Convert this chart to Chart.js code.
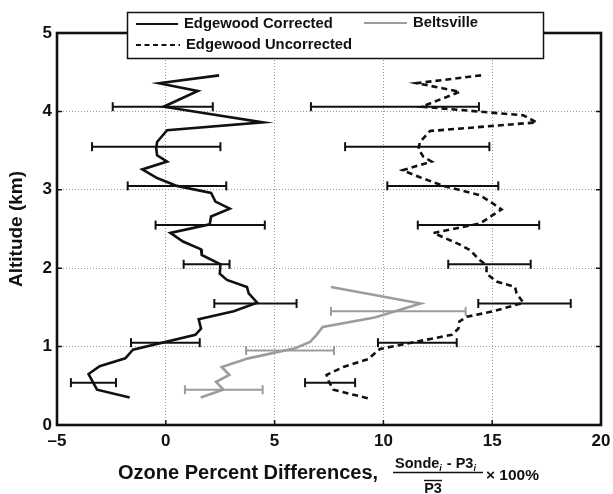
<!DOCTYPE html>
<html>
<head>
<meta charset="utf-8">
<script src="https://cdn.jsdelivr.net/npm/chart.js@4.4.1/dist/chart.umd.min.js"></script>
<style>
html, body { margin: 0; padding: 0; background: #fff; }
</style>
</head>
<body>
<canvas id="ozoneChart" width="613" height="494"></canvas>
<script>
// ozone percent differences vs altitude (km)
const corrAlt  = [4.46, 4.36, 4.26, 4.06, 3.86, 3.76, 3.61, 3.53, 3.44, 3.36, 3.26, 3.15, 3.05, 2.96, 2.85, 2.76, 2.66, 2.56, 2.45, 2.34, 2.24, 2.17, 2.05, 1.93, 1.85, 1.76, 1.68, 1.56, 1.45, 1.35, 1.23, 1.15, 0.96, 0.85, 0.75, 0.65, 0.45, 0.35];
const corrDiff = [2.45, -0.31, 1.47, -0.10, 4.47, 0.06, -0.40, -0.44, -0.40, 0.06, -1.08, -0.40, 0.51, 2.08, 2.28, 2.94, 2.08, 2.02, 0.21, 0.79, 1.62, 1.65, 2.51, 2.48, 2.81, 3.73, 3.81, 4.20, 3.12, 1.51, 1.62, 1.36, -1.51, -1.86, -3.04, -3.55, -3.16, -1.66];

const beltAlt  = [1.76, 1.55, 1.37, 1.25, 1.15, 1.06, 0.98, 0.85, 0.74, 0.64, 0.55, 0.45, 0.35];
const beltDiff = [7.59, 11.71, 9.60, 7.21, 6.93, 6.63, 5.94, 3.79, 2.57, 2.92, 2.31, 2.64, 1.60];

const uncorrAlt  = [4.46, 4.36, 4.25, 4.06, 3.95, 3.86, 3.75, 3.61, 3.52, 3.42, 3.36, 3.25, 3.16, 3.05, 2.93, 2.85, 2.75, 2.57, 2.45, 2.30, 2.23, 2.10, 2.04, 1.93, 1.83, 1.76, 1.68, 1.56, 1.45, 1.38, 1.32, 1.23, 1.15, 1.08, 0.97, 0.84, 0.74, 0.64, 0.55, 0.45, 0.34];
const uncorrDiff = [14.49, 11.53, 13.52, 11.76, 16.43, 17.04, 12.14, 11.68, 11.61, 11.84, 12.22, 10.88, 11.68, 12.75, 14.44, 14.90, 15.43, 14.44, 12.30, 13.52, 13.98, 14.44, 14.74, 14.74, 15.20, 16.05, 16.12, 16.43, 15.05, 13.83, 13.49, 13.45, 13.14, 11.84, 9.84, 9.30, 8.16, 7.39, 7.50, 7.70, 9.30];

// error bars: altitude, low end, high end
const corrBarAlt = [4.06, 3.55, 3.05, 2.55, 2.05, 1.55, 1.05, 0.54];
const corrBarLo  = [-2.44, -3.39, -1.75, -0.47, 0.82, 2.23, -1.60, -4.36];
const corrBarHi  = [2.16, 2.51, 2.78, 4.55, 2.93, 6.01, 1.56, -2.29];

const beltBarAlt = [1.45, 0.95, 0.45];
const beltBarLo  = [7.59, 3.69, 0.88];
const beltBarHi  = [13.78, 7.73, 4.45];

const uncorrBarAlt = [4.06, 3.55, 3.05, 2.55, 2.05, 1.55, 1.05, 0.54];
const uncorrBarLo  = [6.67, 8.24, 10.18, 11.58, 12.98, 14.36, 9.75, 6.40];
const uncorrBarHi  = [14.39, 14.87, 15.28, 17.16, 16.77, 18.61, 13.37, 8.70];

const xTicks = [-5, 0, 5, 10, 15, 20];
const yTicks = [0, 1, 2, 3, 4, 5];

const BLACK = '#111111';
const GREY = '#9c9c9c';
const FONT = '"Liberation Sans", Arial, Helvetica, sans-serif';

function pts(xs, ys) {
    return xs.map((x, i) => ({x: x, y: ys[i]}));
}

function barSets(alts, lo, hi, color) {
    return alts.map((a, i) => ({
        data: [{x: lo[i], y: a}, {x: hi[i], y: a}],
        showLine: true,
        borderColor: color,
        borderWidth: 2,
        pointStyle: 'line',
        pointRotation: 90,
        pointRadius: 4.5,
        pointHoverRadius: 4.5,
        pointBorderColor: color,
        pointBorderWidth: 2,
        isBar: true
    }));
}

const lineSets = [
    {label: 'Edgewood Corrected', data: pts(corrDiff, corrAlt), borderColor: BLACK, borderWidth: 2.6, borderDash: []},
    {label: 'Beltsville', data: pts(beltDiff, beltAlt), borderColor: GREY, borderWidth: 2.6, borderDash: []},
    {label: 'Edgewood Uncorrected', data: pts(uncorrDiff, uncorrAlt), borderColor: BLACK, borderWidth: 2.6, borderDash: [6, 4]}
].map(d => Object.assign(d, {showLine: true, pointRadius: 0, pointHoverRadius: 0, tension: 0}));

// box, inward ticks, legend and the x axis label with its fraction
const decorations = {
    id: 'decorations',
    afterDatasetsDraw(chart) {
        const {ctx, chartArea: a, scales} = chart;
        ctx.save();
        ctx.strokeStyle = BLACK;
        ctx.lineWidth = 1.5;
        ctx.beginPath();
        xTicks.slice(1, -1).forEach(v => {
            const px = scales.x.getPixelForValue(v);
            ctx.moveTo(px, a.bottom); ctx.lineTo(px, a.bottom - 5);
            ctx.moveTo(px, a.top); ctx.lineTo(px, a.top + 5);
        });
        yTicks.slice(1, -1).forEach(v => {
            const py = scales.y.getPixelForValue(v);
            ctx.moveTo(a.left, py); ctx.lineTo(a.left + 5, py);
            ctx.moveTo(a.right, py); ctx.lineTo(a.right - 5, py);
        });
        ctx.stroke();
        ctx.lineWidth = 2.6;
        ctx.strokeRect(a.left, a.top, a.right - a.left, a.bottom - a.top);
        ctx.restore();
    },
    afterDraw(chart) {
        const ctx = chart.ctx;
        ctx.save();

        // legend
        const bx = 127.5, by = 12.5, bw = 416, bh = 46;
        ctx.fillStyle = '#fff';
        ctx.fillRect(bx, by, bw, bh);
        ctx.strokeStyle = BLACK;
        ctx.lineWidth = 1.5;
        ctx.strokeRect(bx, by, bw, bh);
        const entries = [
            {ds: lineSets[0], x: 136, y: 24, w: 42},
            {ds: lineSets[1], x: 364, y: 23, w: 43},
            {ds: lineSets[2], x: 136, y: 45, w: 44}
        ];
        ctx.font = 'bold 14.8px ' + FONT;
        ctx.textBaseline = 'middle';
        ctx.textAlign = 'left';
        entries.forEach(e => {
            ctx.strokeStyle = e.ds.borderColor;
            ctx.lineWidth = 2.2;
            ctx.setLineDash(e.ds.borderDash.length ? [5, 3.5] : []);
            ctx.beginPath();
            ctx.moveTo(e.x, e.y);
            ctx.lineTo(e.x + e.w, e.y);
            ctx.stroke();
            ctx.setLineDash([]);
            ctx.fillStyle = BLACK;
            ctx.fillText(e.ds.label, e.x + e.w + 6, e.y - 0.5);
        });

        // x axis label
        ctx.fillStyle = BLACK;
        ctx.strokeStyle = BLACK;
        ctx.textBaseline = 'alphabetic';
        ctx.font = 'bold 20px ' + FONT;
        ctx.fillText('Ozone Percent Differences,', 118, 479);

        const big = 'bold 14.5px ' + FONT;
        const sub = 'italic bold 9px ' + FONT;
        let nx = 395;
        const ny = 468;
        const parts = [['Sonde', big, 0], ['i', sub, 3], [' - P3', big, 0], ['i', sub, 3]];
        parts.forEach(p => {
            ctx.font = p[1];
            ctx.fillText(p[0], nx, ny + p[2]);
            nx += ctx.measureText(p[0]).width + (p[1] === sub ? 1 : 0);
        });
        ctx.lineWidth = 1.4;
        ctx.beginPath();
        ctx.moveTo(393, 472.5);
        ctx.lineTo(483, 472.5);
        ctx.stroke();
        ctx.font = big;
        ctx.textAlign = 'center';
        ctx.fillText('P3', 433, 493);
        ctx.beginPath();
        ctx.moveTo(424, 480.5);
        ctx.lineTo(442, 480.5);
        ctx.stroke();
        ctx.textAlign = 'left';
        ctx.font = 'bold 15.5px ' + FONT;
        ctx.fillText('\u00d7 100%', 486, 480);
        ctx.restore();
    }
};

const gridColor = ctx => (ctx.tick && (ctx.tick.value === ctx.scale.min || ctx.tick.value === ctx.scale.max)) ? 'rgba(0,0,0,0)' : '#9a9a9a';

new Chart(document.getElementById('ozoneChart'), {
    type: 'scatter',
    data: {
        datasets: lineSets
            .concat(barSets(corrBarAlt, corrBarLo, corrBarHi, BLACK))
            .concat(barSets(beltBarAlt, beltBarLo, beltBarHi, GREY))
            .concat(barSets(uncorrBarAlt, uncorrBarLo, uncorrBarHi, BLACK))
    },
    options: {
        responsive: false,
        animation: false,
        devicePixelRatio: 1,
        layout: {padding: {top: 33, right: 12, left: 0, bottom: 0}},
        plugins: {
            legend: {display: false},
            tooltip: {enabled: false}
        },
        scales: {
            x: {
                type: 'linear',
                min: -5,
                max: 20,
                afterBuildTicks: s => { s.ticks = xTicks.map(v => ({value: v})); },
                afterFit: s => { s.height = 69; s.paddingLeft = 0; s.paddingRight = 0; },
                ticks: {
                    color: BLACK,
                    padding: 6,
                    font: {family: FONT, size: 17, weight: 'bold'},
                    callback: v => v < 0 ? '\u2013' + (-v) : String(v)
                },
                grid: {color: gridColor, lineWidth: 1, drawTicks: false},
                border: {display: false, dash: [1, 2]}
            },
            y: {
                type: 'linear',
                min: 0,
                max: 5,
                afterBuildTicks: s => { s.ticks = yTicks.map(v => ({value: v})); },
                afterFit: s => { s.width = 57; s.paddingTop = 0; s.paddingBottom = 0; },
                ticks: {
                    color: BLACK,
                    padding: 5,
                    font: {family: FONT, size: 17, weight: 'bold'}
                },
                grid: {color: gridColor, lineWidth: 1, drawTicks: false},
                border: {display: false, dash: [1, 2]},
                title: {
                    display: true,
                    text: 'Altitude (km)',
                    color: BLACK,
                    font: {family: FONT, size: 19, weight: 'bold'},
                    padding: {top: 5, bottom: 0}
                }
            }
        }
    },
    plugins: [decorations]
});
</script>
</body>
</html>
